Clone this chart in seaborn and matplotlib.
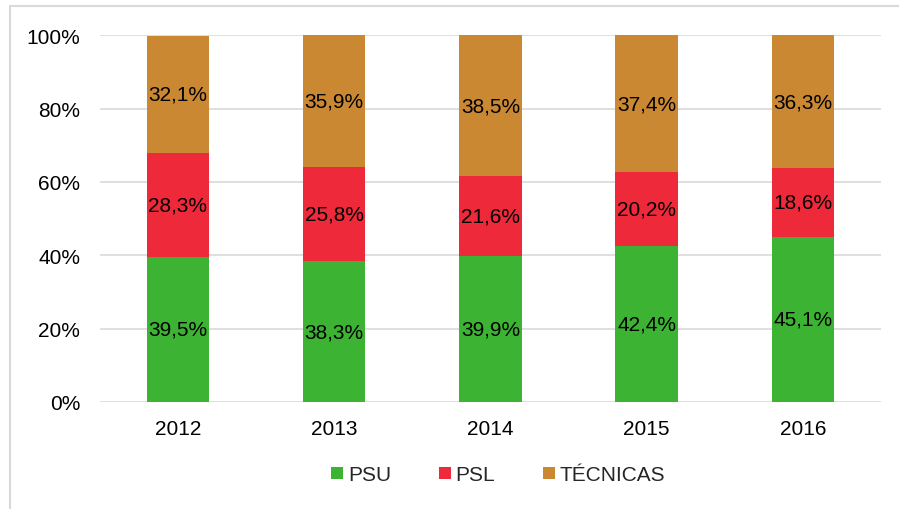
import pandas as pd
import seaborn as sns
import matplotlib.pyplot as plt
from matplotlib.lines import Line2D
from matplotlib.patches import Rectangle
from matplotlib.ticker import FuncFormatter

# data (percent of each year)
years = ['2012', '2013', '2014', '2015', '2016']
psu = [39.5, 38.3, 39.9, 42.4, 45.1]
psl = [28.3, 25.8, 21.6, 20.2, 18.6]
tecnicas = [32.1, 35.9, 38.5, 37.4, 36.3]
series = ['PSU', 'PSL', 'TÉCNICAS']
colors = {'PSU': '#3DB333', 'PSL': '#EE293A', 'TÉCNICAS': '#CB8833'}

df = pd.DataFrame({'Year': years, 'PSU': psu, 'PSL': psl, 'TÉCNICAS': tecnicas})
# cumulative tops for stacking by overlap
df['top_PSU'] = df['PSU']
df['top_PSL'] = df['PSU'] + df['PSL']
df['top_TÉCNICAS'] = df['top_PSL'] + df['TÉCNICAS']

sns.set_theme(style='white')
plt.rcParams['font.family'] = ['Liberation Sans', 'DejaVu Sans']
fs = 15

fig = plt.figure(figsize=(8.99, 5.10), dpi=100)
ax = fig.add_axes([0.111, 0.210, 0.869, 0.719])

# draw tallest first so shorter stacks sit on top
for s in reversed(series):
    sns.barplot(data=df, x='Year', y='top_' + s, color=colors[s], width=0.4,
                saturation=1, ax=ax, zorder=2, linewidth=0)

# segment labels
for i in range(len(years)):
    base = 0
    for s in series:
        v = df[s][i]
        ax.text(i, base + v / 2, f'{v:.1f}%'.replace('.', ','), ha='center',
                va='center', fontsize=fs, color='black', zorder=3)
        base += v

ax.set_ylim(0, 100)
ax.set_yticks(range(0, 101, 20))
ax.yaxis.set_major_formatter(FuncFormatter(lambda v, p: f'{v:.0f}%'))
ax.grid(axis='y', color='#D9D9D9', linewidth=1.2, zorder=0)
ax.set_axisbelow(True)
for sp in ax.spines.values():
    sp.set_visible(False)
ax.set_xlabel('')
ax.set_ylabel('')
ax.tick_params(axis='both', length=0, labelsize=fs, colors='black')
ax.tick_params(axis='y', pad=14)
ax.tick_params(axis='x', pad=12)

handles = [Line2D([], [], marker='s', linestyle='', markersize=8,
                  markerfacecolor=colors[s], markeredgewidth=0) for s in series]
fig.legend(handles, series, loc='center', bbox_to_anchor=(0.553, 0.067), ncol=3,
           frameon=False, fontsize=fs, handletextpad=0.1, columnspacing=2.2,
           handlelength=0.8)

# outer chart border
fig.add_artist(Rectangle((10 / 899, -0.1), 1.0, 1.1 - 6.5 / 510,
                         transform=fig.transFigure, fill=False,
                         edgecolor='#D9D9D9', linewidth=1.5))

fig.savefig('out.png', dpi=100)
